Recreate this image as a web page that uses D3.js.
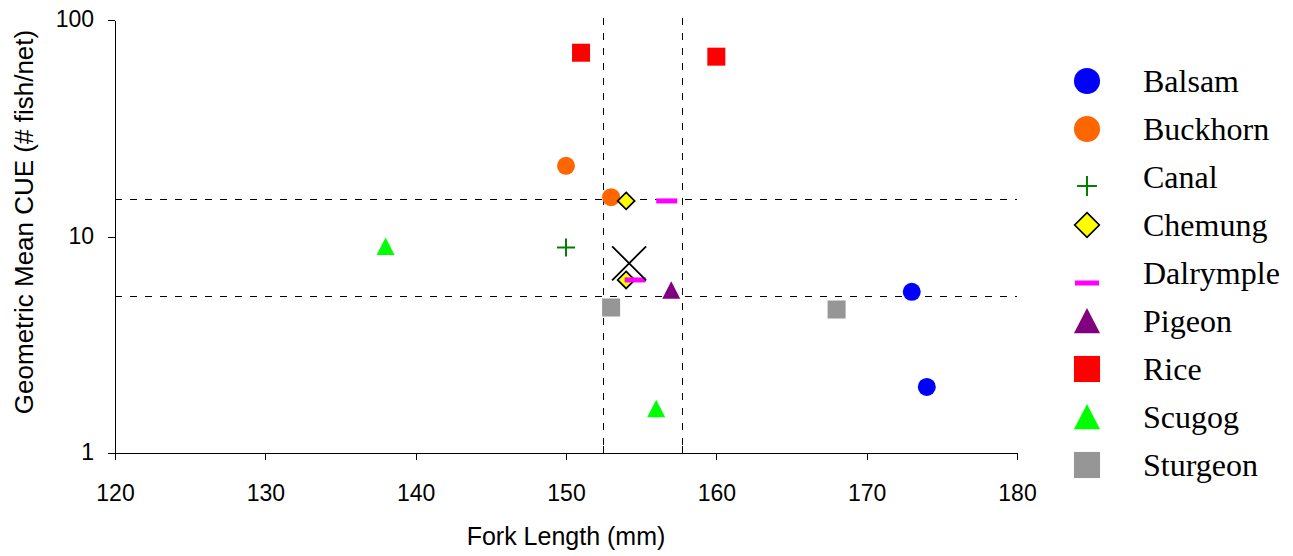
<!DOCTYPE html>
<html>
<head>
<meta charset="utf-8">
<script src="https://cdn.jsdelivr.net/npm/d3@7"></script>
<style>
  html, body { margin: 0; padding: 0; background: #fff; }
  svg { display: block; }
</style>
</head>
<body>
<svg id="chart" width="1293" height="556"></svg>
<script>
// Lake populations: fork length (mm) vs geometric mean CUE
const lakes = ["Balsam", "Buckhorn", "Canal", "Chemung", "Dalrymple", "Pigeon", "Rice", "Scugog", "Sturgeon"];
const forkLength = {
  Balsam: [173, 174],
  Buckhorn: [150, 153],
  Canal: [150],
  Chemung: [154, 154],
  Dalrymple: [156.7, 154.6],
  Pigeon: [157],
  Rice: [151, 160],
  Scugog: [138, 156],
  Sturgeon: [153, 168]
};
const cue = {
  Balsam: [5.55, 2.02],
  Buckhorn: [21.2, 15.2],
  Canal: [8.9],
  Chemung: [14.6, 6.3],
  Dalrymple: [14.6, 6.3],
  Pigeon: [5.64],
  Rice: [70.6, 67.7],
  Scugog: [9.0, 1.6],
  Sturgeon: [4.7, 4.6]
};
// overall mean and its reference bands
const overallMean = [154.2, 7.52];
const lengthBounds = [152.48, 157.7];
const cueBounds = [14.87, 5.33];

const xTicks = [120, 130, 140, 150, 160, 170, 180];
const yTicks = [1, 10, 100];

const styles = {
  Balsam:    { shape: "circle",   fill: "#0000ff" },
  Buckhorn:  { shape: "circle",   fill: "#ff6600" },
  Canal:     { shape: "plus",     fill: "#008000" },
  Chemung:   { shape: "diamond",  fill: "#ffff00" },
  Dalrymple: { shape: "dash",     fill: "#ff00ff" },
  Pigeon:    { shape: "triangle", fill: "#800080" },
  Rice:      { shape: "square",   fill: "#ff0000" },
  Scugog:    { shape: "triangle", fill: "#00ff00" },
  Sturgeon:  { shape: "square",   fill: "#969696" }
};

const sans = "'Liberation Sans', Arial, sans-serif";
const serif = "'Liberation Serif', 'Times New Roman', serif";

const svg = d3.select("#chart");
const plotLeft = 115, plotRight = 1017, plotTop = 20, plotBottom = 453;

const x = d3.scaleLinear().domain([120, 180]).range([plotLeft, plotRight]);
const y = d3.scaleLog().domain([1, 100]).range([plotBottom, plotTop]);
const px = v => Math.round(v) + 0.5;

// reference lines
const refG = svg.append("g").attr("stroke", "#000").attr("stroke-width", 1)
  .attr("stroke-dasharray", "7,8").attr("shape-rendering", "crispEdges");
lengthBounds.forEach(v => {
  refG.append("line").attr("x1", px(x(v))).attr("x2", px(x(v))).attr("y1", plotTop - 2).attr("y2", plotBottom);
});
cueBounds.forEach(v => {
  refG.append("line").attr("x1", plotLeft).attr("x2", plotRight).attr("y1", px(y(v))).attr("y2", px(y(v)));
});
// small ticks where the reference lines meet the axes
lengthBounds.forEach(v => {
  svg.append("line").attr("x1", px(x(v))).attr("x2", px(x(v))).attr("y1", plotBottom - 7).attr("y2", plotBottom)
    .attr("stroke", "#000").attr("shape-rendering", "crispEdges");
});
cueBounds.forEach(v => {
  svg.append("line").attr("x1", plotLeft).attr("x2", plotLeft + 7).attr("y1", px(y(v))).attr("y2", px(y(v)))
    .attr("stroke", "#000").attr("shape-rendering", "crispEdges");
});

// axes
const xAxis = svg.append("g").attr("transform", `translate(0,${plotBottom})`)
  .call(d3.axisBottom(x).tickValues(xTicks).tickFormat(d3.format("d")).tickSize(7).tickSizeOuter(0));
const yAxis = svg.append("g").attr("transform", `translate(${plotLeft},0)`)
  .call(d3.axisLeft(y).tickValues(yTicks).tickFormat(d3.format("d")).tickSize(7).tickSizeOuter(0));
[xAxis, yAxis].forEach(a => {
  a.attr("shape-rendering", "crispEdges");
  a.select(".domain").attr("stroke", "#000");
  a.selectAll(".tick line").attr("stroke", "#000");
  a.selectAll(".tick text").attr("fill", "#000")
    .style("font-family", sans).style("font-size", "23px");
});
xAxis.selectAll(".tick text").attr("dy", "0").attr("y", 48);
yAxis.selectAll(".tick text").attr("x", -21).attr("dy", "0.3em");

// axis titles
svg.append("text").attr("x", 566).attr("y", 545).attr("text-anchor", "middle")
  .style("font-family", sans).style("font-size", "25px")
  .text("Fork Length (mm)");
svg.append("text").attr("transform", `translate(33,222) rotate(-90)`).attr("text-anchor", "middle")
  .style("font-family", sans).style("font-size", "26px")
  .text("Geometric Mean CUE (# fish/net)");

function drawMarker(g, shape, fill, s) {
  switch (shape) {
    case "circle":
      g.append("circle").attr("r", 9 * s).attr("fill", fill); break;
    case "square":
      g.append("rect").attr("x", -9 * s).attr("y", -9 * s).attr("width", 18 * s).attr("height", 18 * s).attr("fill", fill); break;
    case "triangle":
      g.append("path").attr("d", `M0,${-9 * s} L${9 * s},${8.5 * s} L${-9 * s},${8.5 * s} Z`).attr("fill", fill); break;
    case "diamond":
      g.append("path").attr("d", `M0,${-8.5 * s} L${8.5 * s},0 L0,${8.5 * s} L${-8.5 * s},0 Z`).attr("fill", fill)
        .attr("stroke", "#000").attr("stroke-width", 1.7); break;
    case "dash":
      g.append("rect").attr("x", -10.5 * s).attr("y", -2.5).attr("width", 21 * s).attr("height", 5).attr("fill", fill); break;
    case "plus":
      g.append("path").attr("d", `M${-9 * s},0 L${9 * s},0 M0,${-9 * s} L0,${9 * s}`)
        .attr("stroke", fill).attr("stroke-width", 2).attr("fill", "none"); break;
  }
}

// data points
lakes.forEach(lake => {
  forkLength[lake].forEach((fl, i) => {
    const g = svg.append("g").attr("transform", `translate(${x(fl)},${y(cue[lake][i])})`);
    drawMarker(g, styles[lake].shape, styles[lake].fill, 1);
  });
});

// overall mean marker
svg.append("path")
  .attr("transform", `translate(${x(overallMean[0])},${y(overallMean[1])})`)
  .attr("d", "M-17,-17 L17,17 M17,-17 L-17,17")
  .attr("stroke", "#000").attr("stroke-width", 1.8).attr("fill", "none");

// legend
const legendScale = { circle: 1.45, square: 1.45, triangle: 1.45, diamond: 1.45, dash: 1.15, plus: 1.1 };
const legendShift = { plus: 9, dash: 10 };
const legend = svg.append("g");
lakes.forEach((lake, i) => {
  const cy = 81 + i * 48;
  const shape = styles[lake].shape;
  const g = legend.append("g").attr("transform", `translate(1087,${cy + (legendShift[shape] || 0)})`);
  drawMarker(g, shape, styles[lake].fill, legendScale[shape]);
  legend.append("text").attr("x", 1143).attr("y", cy).attr("dy", "0.35em")
    .style("font-family", serif).style("font-size", "32px")
    .text(lake);
});
</script>
</body>
</html>
